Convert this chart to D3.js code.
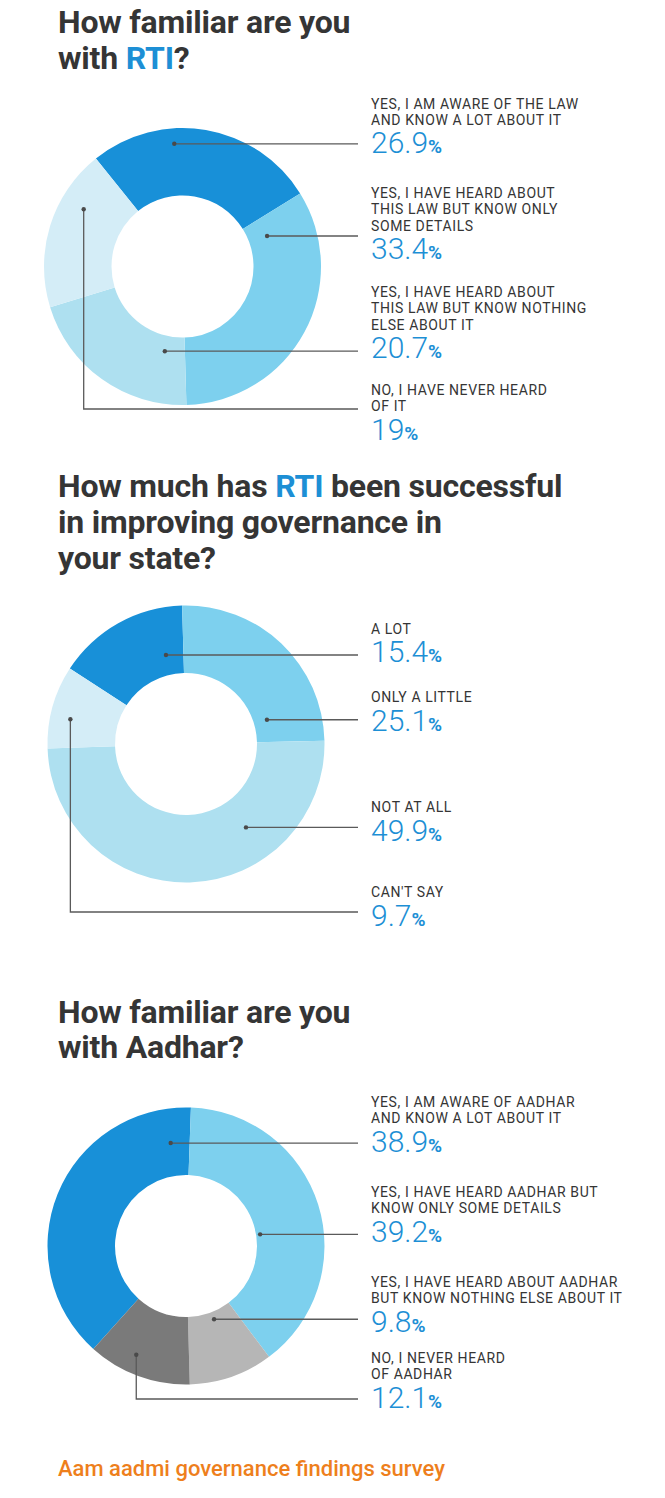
<!DOCTYPE html>
<html><head><meta charset="utf-8">
<script src="https://cdn.jsdelivr.net/npm/d3@7"></script>
<style>body{margin:0;background:#fff}svg{display:block}</style>
</head><body>
<svg id="c" width="665" height="1498"></svg>
<script>
// ---------- DATA ----------
const rtiCategories = [
  ["YES, I AM AWARE OF THE LAW", "AND KNOW A LOT ABOUT IT"],
  ["YES, I HAVE HEARD ABOUT", "THIS LAW BUT KNOW ONLY", "SOME DETAILS"],
  ["YES, I HAVE HEARD ABOUT", "THIS LAW BUT KNOW NOTHING", "ELSE ABOUT IT"],
  ["NO, I HAVE NEVER HEARD", "OF IT"]
];
const rtiValues = [26.9, 33.4, 20.7, 19];

const successCategories = [["A LOT"], ["ONLY A LITTLE"], ["NOT AT ALL"], ["CAN'T SAY"]];
const successValues = [15.4, 25.1, 49.9, 9.7];

const aadharCategories = [
  ["YES, I AM AWARE OF AADHAR", "AND KNOW A LOT ABOUT IT"],
  ["YES, I HAVE HEARD AADHAR BUT", "KNOW ONLY SOME DETAILS"],
  ["YES, I HAVE HEARD ABOUT AADHAR", "BUT KNOW NOTHING ELSE ABOUT IT"],
  ["NO, I NEVER HEARD", "OF AADHAR"]
];
const aadharValues = [38.9, 39.2, 9.8, 12.1];

const titleRti = [[["How familiar are you", false]], [["with ", false], ["RTI", true], ["?", false]]];
const titleSuccess = [[["How much has ", false], ["RTI", true], [" been successful", false]],
                      [["in improving governance in", false]], [["your state?", false]]];
const titleAadhar = [[["How familiar are you", false]], [["with Aadhar?", false]]];
const footerText = "Aam aadmi governance findings survey";

// ---------- STYLE / LAYOUT ----------
const BLUE = "#1890d8", MID = "#7dd0ee", LIGHT = "#aee0f0", LIGHTEST = "#d4edf7";
const GREY1 = "#b6b6b6", GREY2 = "#7a7a7a";
const TEXT = "#353535", PCT = "#1d8fd5", LINE = "#5a5a5a";
const inner = 71, outer = 138.5, labelX = 371, lineEndX = 358;

const charts = [
  { cats: rtiCategories, vals: rtiValues, title: titleRti, titleY: 33, cx: 182.5, cy: 266.5, start: -38.7,
    colors: [BLUE, MID, LIGHT, LIGHTEST], labelY: [108.5, 198, 297, 395],
    leaders: [{f: .36, rf: .77}, {f: .10, rf: .28}, {f: .18, rf: .23}, {f: .69, rf: .64, elbow: 409}] },
  { cats: successCategories, vals: successValues, title: titleSuccess, titleY: 497, cx: 186, cy: 744, start: -57,
    colors: [BLUE, MID, LIGHT, LIGHTEST], labelY: [633.5, 702, 812, 897],
    leaders: [{f: .80, rf: .30}, {f: .83, rf: .20}, {f: .31, rf: .47}, {f: .40, rf: .70, elbow: 912}] },
  { cats: aadharCategories, vals: aadharValues, title: titleAadhar, titleY: 1022.5, cx: 186, cy: 1246, start: -138,
    colors: [BLUE, MID, GREY1, GREY2], labelY: [1107, 1197, 1287, 1363],
    leaders: [{f: .925, rf: .49}, {f: .56, rf: .06}, {f: .45, rf: .11}, {f: .60, rf: .72, elbow: 1399}] }
];

const svg = d3.select("#c");
const rad = d => d * Math.PI / 180;
const arc = d3.arc().innerRadius(inner).outerRadius(outer);

charts.forEach(ch => {
  // title
  const tg = svg.append("text").attr("x", 58).attr("y", ch.titleY)
    .style("font-family", "Roboto, sans-serif").style("font-weight", 700)
    .style("font-size", "32px").style("letter-spacing", "-0.2px").attr("fill", TEXT);
  ch.title.forEach((line, i) => {
    line.forEach((seg, j) => {
      const t = tg.append("tspan").text(seg[0]).attr("fill", seg[1] ? PCT : TEXT);
      if (j === 0) t.attr("x", 58).attr("dy", i === 0 ? 0 : 35.8);
    });
  });

  const pie = d3.pie().sort(null).value(d => d)
    .startAngle(rad(ch.start)).endAngle(rad(ch.start) + 2 * Math.PI);
  const arcs = pie(ch.vals);
  const g = svg.append("g").attr("transform", `translate(${ch.cx},${ch.cy})`);
  g.selectAll("path").data(arcs).join("path").attr("d", arc)
    .attr("fill", (d, i) => ch.colors[i]);

  // leaders
  arcs.forEach((s, i) => {
    const L = ch.leaders[i];
    const a = s.startAngle + L.f * (s.endAngle - s.startAngle);
    const r = inner + L.rf * (outer - inner);
    const x = ch.cx + r * Math.sin(a), y = ch.cy - r * Math.cos(a);
    const p = d3.path();
    p.moveTo(x, y);
    if (L.elbow !== undefined) { p.lineTo(x, L.elbow); p.lineTo(lineEndX, L.elbow); }
    else p.lineTo(lineEndX, y);
    svg.append("path").attr("d", p.toString()).attr("fill", "none")
      .attr("stroke", LINE).attr("stroke-width", 1.3);
    svg.append("circle").attr("cx", x).attr("cy", y).attr("r", 2.2).attr("fill", "#4a4a4a");
  });

  // labels
  ch.cats.forEach((lines, i) => {
    const y0 = ch.labelY[i];
    lines.forEach((ln, k) => {
      svg.append("text").attr("x", labelX).attr("y", y0 + k * 16.3).text(ln)
        .style("font-family", "Roboto, sans-serif").style("font-size", "14px")
        .style("letter-spacing", "0.6px").attr("fill", TEXT);
    });
    const py = y0 + (lines.length - 1) * 16.3 + 28.5;
    const t = svg.append("text").attr("x", labelX).attr("y", py).attr("fill", PCT)
      .style("font-family", "Roboto, sans-serif");
    t.append("tspan").text(String(ch.vals[i])).style("font-size", "30px").style("font-weight", 300);
    t.append("tspan").text("%").style("font-size", "19px").style("font-weight", 700);
  });
});

svg.append("text").attr("x", 58).attr("y", 1476).text(footerText)
  .style("font-family", "Roboto, sans-serif").style("font-weight", 500)
  .style("font-size", "22px").attr("fill", "#ee7f1c");
</script>
</body></html>
